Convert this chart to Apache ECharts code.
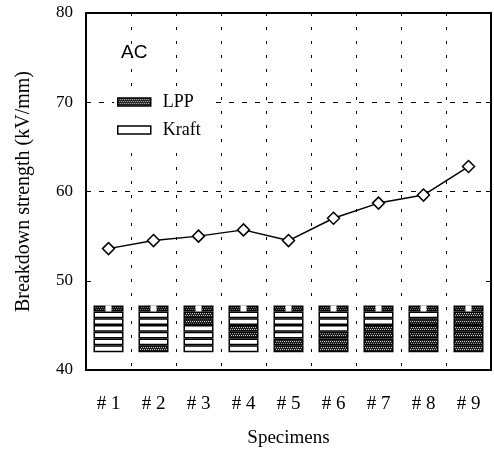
<!DOCTYPE html>
<html>
<head>
<meta charset="utf-8">
<script src="https://cdn.jsdelivr.net/npm/echarts@6/dist/echarts.min.js"></script>
<style>html,body{margin:0;padding:0;background:#fff}#c{width:494px;height:450px}</style>
</head>
<body>
<div id="c"></div>
<script>
// ---- data ----
const categories = ['#1', '#2', '#3', '#4', '#5', '#6', '#7', '#8', '#9'];
const strength = [53.6, 54.5, 55.0, 55.7, 54.5, 57.0, 58.7, 59.6, 62.8];
// insulation layer sequence per specimen, top to bottom (L = LPP, K = Kraft)
const layerStacks = ['KKKKKK', 'KKKKKL', 'LLKKKK', 'KKLLKK', 'KKKKLL', 'KKKLLL', 'KKLLLL', 'KLLLLL', 'LLLLLL'];
const yTicks = [40, 50, 60, 70, 80];
const gridValues = [60, 70];

// ---- schematic geometry (in axis units) ----
const stackBase = 42;
const layerThickness = 0.76;
const headerThickness = 0.68;

function makePattern(bg, fg) {
  const c = document.createElement('canvas');
  c.width = 4; c.height = 4;
  const g = c.getContext('2d');
  g.fillStyle = bg; g.fillRect(0, 0, 4, 4);
  g.fillStyle = fg;
  g.fillRect(0, 1, 1, 1); g.fillRect(2, 1, 1, 1);
  g.fillRect(1, 3, 1, 1); g.fillRect(3, 3, 1, 1);
  return c;
}
const lppFill = { image: makePattern('#1e1e1e', '#c8c8c8'), repeat: 'repeat' };
const headFill = { image: makePattern('#111', '#777'), repeat: 'repeat' };

const serif = 'Liberation Serif';
const nLayers = layerStacks[0].length;
const series = [];
series.push({
  type: 'bar', stack: 's', barWidth: 30, silent: true,
  data: categories.map(() => stackBase),
  itemStyle: { color: 'rgba(0,0,0,0)' }
});
for (let k = nLayers - 1; k >= 0; k--) {
  series.push({
    type: 'bar', stack: 's', barWidth: 30, silent: true,
    data: categories.map((c, i) => ({
      value: layerThickness,
      itemStyle: { color: layerStacks[i][k] === 'L' ? lppFill : '#fff' }
    })),
    itemStyle: { borderColor: '#000', borderWidth: 1.5 }
  });
}
series.push({
  type: 'bar', stack: 's', barWidth: 30, silent: true,
  data: categories.map(() => headerThickness),
  itemStyle: { color: headFill, borderColor: '#000', borderWidth: 1.5 }
});
series.push({
  type: 'scatter', silent: true, symbol: 'rect', symbolSize: 6, z: 5,
  data: categories.map(() => stackBase + nLayers * layerThickness + headerThickness / 2),
  itemStyle: { color: '#fff', opacity: 1 }
});
series.push({ name: 'LPP', type: 'bar', stack: 's', data: [], itemStyle: { color: lppFill, borderColor: '#000', borderWidth: 1.5 } });
series.push({ name: 'Kraft', type: 'bar', stack: 's', data: [], itemStyle: { color: '#fff', borderColor: '#000', borderWidth: 1.5 } });
series.push({
  type: 'line', data: strength, z: 10,
  symbol: 'diamond', symbolSize: 12,
  lineStyle: { color: '#000', width: 1.5 },
  itemStyle: { color: '#fff', borderColor: '#000', borderWidth: 1.5 },
  markLine: {
    silent: true, symbol: 'none', label: { show: false }, z: 1,
    lineStyle: { color: '#000', type: [5, 8], width: 1 },
    data: gridValues.map(v => ({ yAxis: v }))
  }
});

const chart = echarts.init(document.getElementById('c'), null, { renderer: 'canvas' });
chart.setOption({
  animation: false,
  backgroundColor: '#fff',
  title: { text: 'AC', left: 116, top: 38, textStyle: { fontFamily: 'Liberation Sans', fontSize: 19, fontWeight: 'normal', color: '#000' } },
  legend: {
    z: 50,
    data: [{ name: 'LPP', icon: 'rect' }, { name: 'Kraft', icon: 'rect' }],
    orient: 'vertical', left: 114, top: 90, itemWidth: 33, itemHeight: 8, itemGap: 10,
    backgroundColor: '#fff', padding: [3, 8, 3, 3],
    textStyle: { fontFamily: serif, fontSize: 18, color: '#000', padding: [0, 0, 0, 7] },
    itemStyle: { borderColor: '#000', borderWidth: 1.5 }
  },
  grid: { left: 86, right: 3, top: 13, bottom: 80, containLabel: false, outerBoundsMode: 'none' },
  xAxis: [{
    type: 'category', data: categories, boundaryGap: true,
    name: 'Specimens', nameLocation: 'middle', nameGap: 59,
    nameTextStyle: { fontFamily: serif, fontSize: 19, color: '#000' },
    axisLine: { lineStyle: { color: '#000', width: 2 } },
    axisTick: { inside: true, length: 5, alignWithLabel: false, lineStyle: { color: '#000' } },
    axisLabel: { fontFamily: serif, fontSize: 19, color: '#000', margin: 25, formatter: v => v.replace('#', '# ') },
    splitLine: { show: true, interval: 0, lineStyle: { color: '#000', type: [3, 11], width: 1 } }
  }, {
    type: 'category', data: categories, position: 'top',
    axisLine: { lineStyle: { color: '#000', width: 2 } },
    axisTick: { inside: true, length: 5, lineStyle: { color: '#000' } },
    axisLabel: { show: false }, splitLine: { show: false }
  }],
  yAxis: [{
    type: 'value', min: yTicks[0], max: yTicks[yTicks.length - 1], interval: 10,
    name: 'Breakdown strength (kV/mm)', nameLocation: 'middle', nameGap: 52,
    nameTextStyle: { fontFamily: serif, fontSize: 20, color: '#000' },
    axisLine: { show: true, lineStyle: { color: '#000', width: 2 } },
    axisTick: { show: true, inside: true, length: 5, lineStyle: { color: '#000' } },
    axisLabel: { fontFamily: serif, fontSize: 17, color: '#000', margin: 13 },
    splitLine: { show: false }
  }, {
    type: 'value', min: yTicks[0], max: yTicks[yTicks.length - 1], interval: 10, position: 'right',
    axisLine: { show: true, lineStyle: { color: '#000', width: 2 } },
    axisTick: { show: true, inside: true, length: 5, lineStyle: { color: '#000' } },
    axisLabel: { show: false }, splitLine: { show: false }
  }],
  series: series
});
</script>
</body>
</html>
